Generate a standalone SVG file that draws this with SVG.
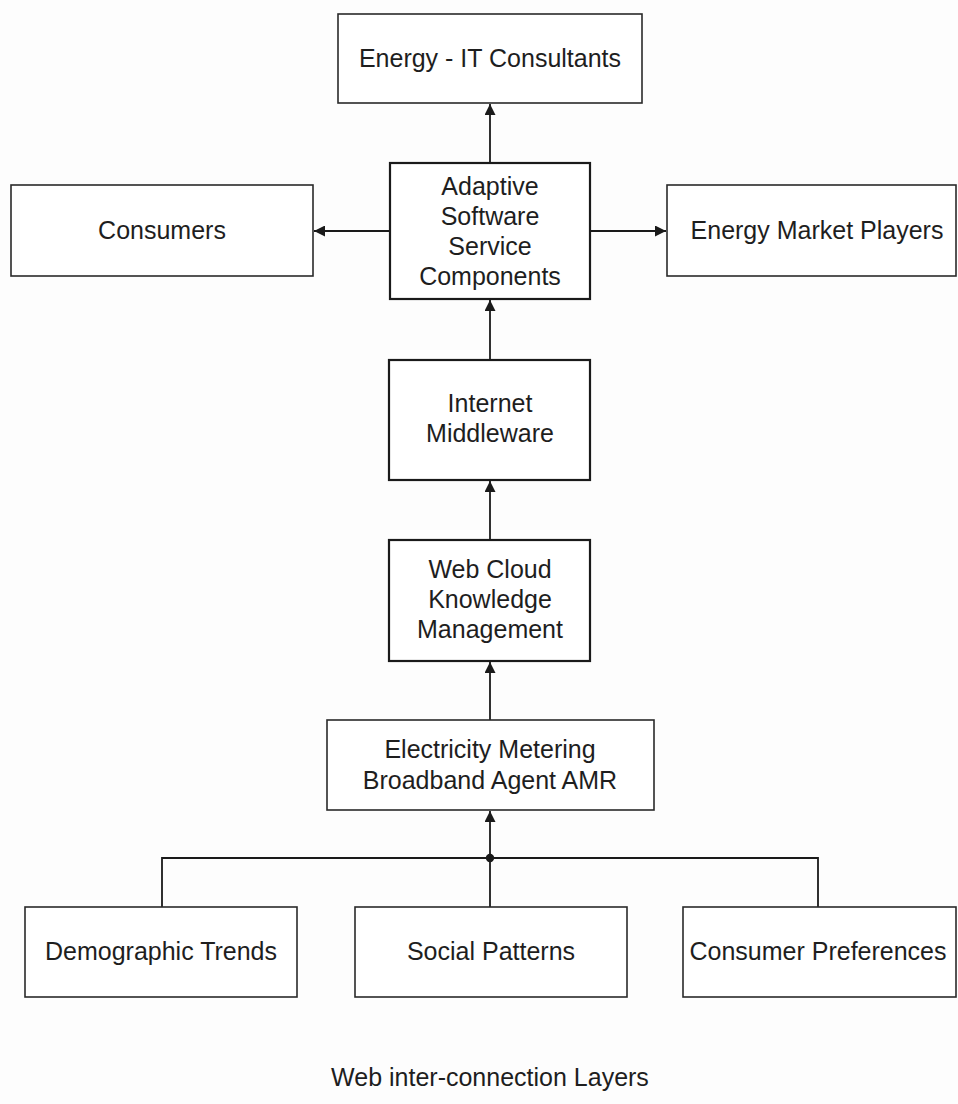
<svg xmlns="http://www.w3.org/2000/svg" width="958" height="1104" viewBox="0 0 958 1104">
  <defs>
    <marker id="arrow" viewBox="0 0 10 10" refX="10" refY="5" markerWidth="12" markerHeight="11" markerUnits="userSpaceOnUse" orient="auto">
      <path d="M0,0 L10,5 L0,10 Z" fill="#1a1a1a"/>
    </marker>
  </defs>
  <style>
    .box { fill: #ffffff; stroke: #2a2a2a; stroke-width: 1.6; }
    .core { fill: #ffffff; stroke: #1a1a1a; stroke-width: 2.2; }
    .lbl { font-family: "Liberation Sans", Arial, sans-serif; font-size: 25px; fill: #1e1e1e; text-anchor: middle; dominant-baseline: central; }
    .link { fill: none; stroke: #1a1a1a; stroke-width: 1.8; }
  </style>
  <rect width="958" height="1104" fill="#fdfdfd"/>

  <!-- connectors between layers -->
  <g id="connectors">
    <line class="link" x1="490" y1="163" x2="490" y2="104" marker-end="url(#arrow)"/>
    <line class="link" x1="390" y1="231" x2="314" y2="231" marker-end="url(#arrow)"/>
    <line class="link" x1="590" y1="231" x2="666" y2="231" marker-end="url(#arrow)"/>
    <line class="link" x1="490" y1="360" x2="490" y2="300" marker-end="url(#arrow)"/>
    <line class="link" x1="490" y1="540" x2="490" y2="481" marker-end="url(#arrow)"/>
    <line class="link" x1="490" y1="720" x2="490" y2="662" marker-end="url(#arrow)"/>
    <line class="link" x1="490" y1="907" x2="490" y2="811" marker-end="url(#arrow)"/>
    <polyline class="link" points="162,907 162,858 818,858 818,907"/>
    <circle cx="490" cy="858" r="4.2" fill="#1a1a1a"/>
  </g>

  <g id="energy-it-consultants">
    <rect class="box" x="338" y="14" width="304" height="89"/>
    <text class="lbl" x="490" y="58">Energy - IT Consultants</text>
  </g>

  <g id="consumers">
    <rect class="box" x="11" y="185" width="302" height="91"/>
    <text class="lbl" x="162" y="230">Consumers</text>
  </g>

  <g id="energy-market-players">
    <rect class="box" x="667" y="185" width="289" height="91"/>
    <text class="lbl" x="817" y="230">Energy Market Players</text>
  </g>

  <g id="adaptive-software">
    <rect class="core" x="390" y="163" width="200" height="136"/>
    <text class="lbl" x="490" y="186">Adaptive</text>
    <text class="lbl" x="490" y="216">Software</text>
    <text class="lbl" x="490" y="246">Service</text>
    <text class="lbl" x="490" y="276">Components</text>
  </g>

  <g id="internet-middleware">
    <rect class="core" x="389" y="360" width="201" height="120"/>
    <text class="lbl" x="490" y="403">Internet</text>
    <text class="lbl" x="490" y="433">Middleware</text>
  </g>

  <g id="web-cloud">
    <rect class="core" x="389" y="540" width="201" height="121"/>
    <text class="lbl" x="490" y="569">Web Cloud</text>
    <text class="lbl" x="490" y="599">Knowledge</text>
    <text class="lbl" x="490" y="629">Management</text>
  </g>

  <g id="electricity-metering">
    <rect class="box" x="327" y="720" width="327" height="90"/>
    <text class="lbl" x="490" y="749">Electricity Metering</text>
    <text class="lbl" x="490" y="780">Broadband Agent AMR</text>
  </g>

  <g id="demographic-trends">
    <rect class="box" x="25" y="907" width="272" height="90"/>
    <text class="lbl" x="161" y="951">Demographic Trends</text>
  </g>

  <g id="social-patterns">
    <rect class="box" x="355" y="907" width="272" height="90"/>
    <text class="lbl" x="491" y="951">Social Patterns</text>
  </g>

  <g id="consumer-preferences">
    <rect class="box" x="683" y="907" width="273" height="90"/>
    <text class="lbl" x="818" y="951">Consumer Preferences</text>
  </g>

  <text class="lbl" x="490" y="1077">Web inter-connection Layers</text>
</svg>
